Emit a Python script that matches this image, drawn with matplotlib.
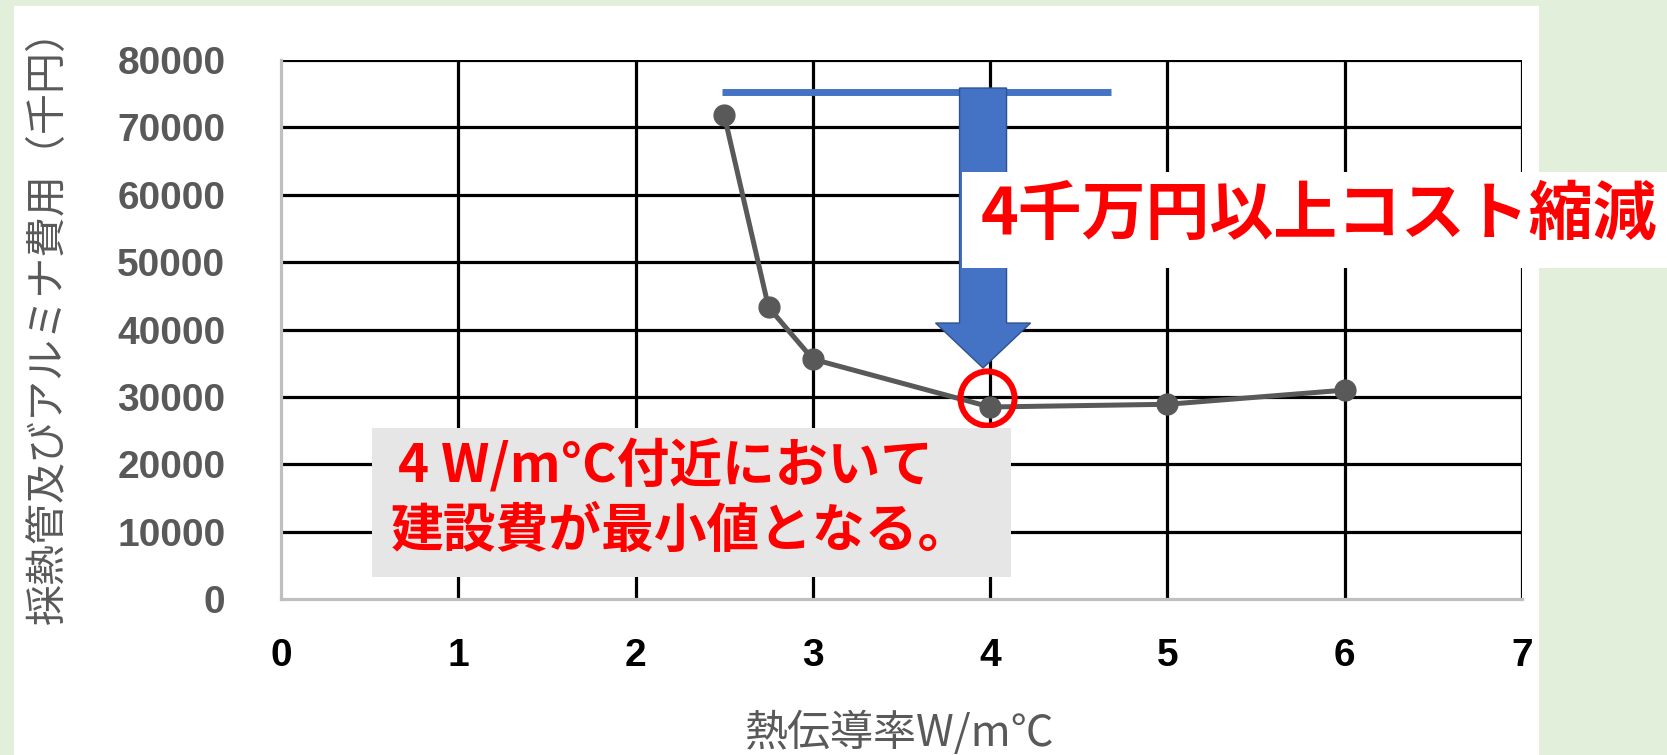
import matplotlib.pyplot as plt
from matplotlib.patches import Rectangle, FancyArrow

plt.rcParams['font.family'] = ['Noto Sans CJK JP', 'DejaVu Sans']

# thermal conductivity vs. cost of pipes + alumina (thousand yen)
conductivity = [2.5, 2.75, 3, 4, 5, 6]
cost = [71800, 43300, 35600, 28500, 28900, 31000]

x_ticks = [0, 1, 2, 3, 4, 5, 6, 7]
y_ticks = [0, 10000, 20000, 30000, 40000, 50000, 60000, 70000, 80000]

# annotation anchors (data units)
ref_level = 75250
ref_span = [2.49, 4.68]
arrow_x = 3.96
arrow_top = 75840
arrow_tip = 34290
min_x = 3.98
min_y = 29830

W, H = 1667, 755
fig = plt.figure(figsize=(W / 100, H / 100), dpi=100, facecolor='#e2efda')

# white slide panel behind the chart
fig.add_artist(Rectangle((14 / W, 0), (1539 - 14) / W, (H - 6) / H,
                         transform=fig.transFigure, facecolor='white',
                         edgecolor='none', zorder=-1))

ax = fig.add_axes([281 / W, 156 / H, (1522 - 281) / W, (599 - 60) / H])
ax.set_facecolor('white')
ax.set_xlim(0, 7)
ax.set_ylim(0, 80000)

# black grid, skipping the axis lines themselves
ax.vlines(x_ticks[1:], 0, 80000, color='black', lw=2.3, zorder=1)
ax.hlines(y_ticks[1:], 0, 7, color='black', lw=2.3, zorder=1)
for side in ['top', 'right']:
    ax.spines[side].set_visible(False)
for side in ['left', 'bottom']:
    ax.spines[side].set_color('#bfbfbf')
    ax.spines[side].set_linewidth(2.3)
    ax.spines[side].set_zorder(2)

ax.set_xticks(x_ticks, [str(v) for v in x_ticks], fontweight='bold',
              family='Liberation Sans', fontsize=28, color='black')
ax.set_yticks(y_ticks, [str(v) for v in y_ticks], fontweight='bold',
              family='Liberation Sans', fontsize=28, color='#595959')
ax.tick_params(axis='x', length=0, pad=28)
ax.tick_params(axis='y', length=0, pad=40)

ax.plot(conductivity, cost, color='#595959', lw=3.6, marker='o',
        markersize=15, zorder=3)

# reference level and the downward arrow
ax.plot(ref_span, [ref_level, ref_level], color='#4472c4', lw=5,
        solid_capstyle='butt', zorder=4)
ax.add_patch(FancyArrow(arrow_x, arrow_top, 0, arrow_tip - arrow_top,
                        width=0.265, head_width=0.536, head_length=6670,
                        length_includes_head=True, facecolor='#4472c4',
                        edgecolor='#2f528f', lw=1, zorder=5))
ax.plot([min_x], [min_y], marker='o', markersize=39, markerfacecolor='none',
        markeredgecolor='red', markeredgewidth=4.3, zorder=6)

# callout boxes
ax.add_patch(Rectangle((962 / W, (H - 268) / H), (W - 962) / W, 96 / H,
                       transform=fig.transFigure, facecolor='white',
                       edgecolor='none', clip_on=False, zorder=7))
fig.text(981 / W, (H - 215) / H, '4千万円以上コスト縮減', color='red',
         fontsize=46, fontweight='bold', ha='left', va='center', zorder=8)

ax.add_patch(Rectangle((372 / W, (H - 577) / H), (1011 - 372) / W, 149 / H,
                       transform=fig.transFigure, facecolor='#e7e6e6',
                       edgecolor='none', clip_on=False, zorder=7))
fig.text(398 / W, (H - 466) / H, '4 W/m°C付近において', color='red',
         fontsize=38, fontweight='bold', ha='left', va='center', zorder=8)
fig.text(391 / W, (H - 531) / H, '建設費が最小値となる。', color='red',
         fontsize=38, fontweight='bold', ha='left', va='center', zorder=8)

fig.text(48 / W, (H - 316) / H, '採熱管及びアルミナ費用（千円）', rotation=90,
         color='#595959', fontsize=29.5, ha='center', va='center')
fig.text(899 / W, (H - 734) / H, '熱伝導率W/m℃', color='#595959',
         fontsize=31, ha='center', va='center')

fig.savefig('out.png', dpi=100, facecolor=fig.get_facecolor())
